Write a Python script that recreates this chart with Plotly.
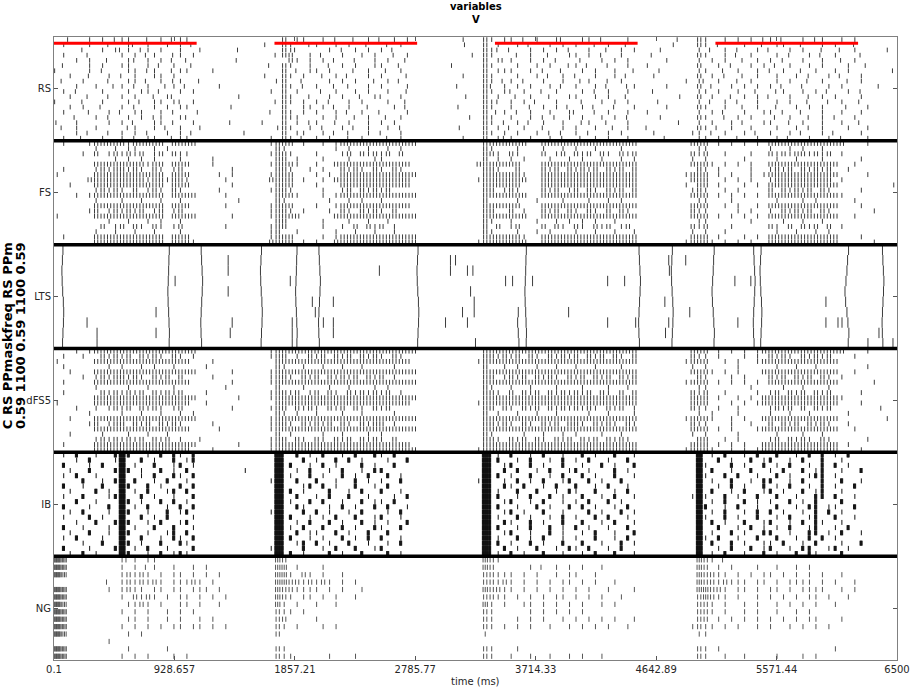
import plotly.graph_objects as go

BIN_MS = 50  # each character of a row string covers 50 ms (10 chars per group = 500 ms)

populations = ["RS", "FS", "LTS", "dFS5", "IB", "NG"]

mask_on_start = [0, 1700, 3400, 5100]
mask_on_end = [1100, 2800, 4500, 6200]

x_tick_values = [0.1, 928.657, 1857.21, 2785.77, 3714.33, 4642.89, 5571.44, 6500]
x_tick_labels = ["0.1", "928.657", "1857.21", "2785.77", "3714.33", "4642.89", "5571.44", "6500"]

# symbols: '.' none, digit n = n spikes in bin, a-e = one spike at 5/15/25/35/45 ms,
# 'B' = burst, 'W' = dense burst over bin, 'X' = dense burst at start of bin
RS_rows = [
    "..a..c.1.b 1c..b.1.a1 1......... .....2.c1. .1.b..a.1. a.1.1..... ...a..21.c 1.b.1..1a. .c1.b...1. ......a..2 1..1.c.1.b 1.a..1.b1. .1.c......",
    ".c...1..b. .1a.1..c.1 .a........ ..c..21..b 1..c.1..a. .b.1...... ...b..2.1. .1.a..c.1. 1..b.1..a. .....c...2 1.b...1..a .c1..a..1. 1..b......",
    "....b..1.c a1.b1.c..1 ..1.....b. .....21a.. ..1.b.1.c. 1.a....... ......21b. a..1.c.1.b ..1..a.1.c ...1.....1 .a.1.b..1. a..c.1..b. .a.1....c.",
    ".1...a.... 1.c.a1..b1 .1........ ....a22..1 .a..1..c.1 ..b.1..... ....c.21.. .b.1..a..1 c.1.b..1.. ..a......2 1..c.a.1.. .1.b..1.a. 1...b.....",
    "...c.1..a. .1b.c.1.a. b.......a. ......21.c .1.a..b..1 .c..a..... ......2.1a 1..c.1.b.. .a..1.c.1. ....1....1 .c.1..a.1. 1.b..c..1. .b.1......",
    ".b...c.1.. c1..1.a.1. .a........ ...a.21..c ..b.1.c..1 1..a...... .b....21.. .1..c.1..b 1.a..b..1. .c.......2 ..1.b..c.1 .a.1..1.c. ..1..a....",
    "a....1.b.. .1c.b1..a1 1...c..... .....2.b.1 1.c...a.1. .a.1...... ......2.c1 c..1.b..a. .1.c..1..b ...b.....1 1..a.c..1. b.1..a.1.. 1.c......b",
    "..1..b..c. b.1..c1.1. .......... ..c..21.1. .b.1.a..c. 1...b..... ...a..21.. .c..1.a.1. b..1..c.a. ..1......2 .1.b..a.c. .c..1.b..1 .a..1.....",
    ".a..1...b. .c1.a.1.b1 ..b....... ....b2..a. ..1.c.1..b .1.a...... ......21.a 1.b..1..c. .a1..b.1.. .......c.1 a.1..b.1.. .1.c..a.1. ..b.1.....",
    "...1..c..a 1.b.1..a1. a....1.... .....21.b. 1..a.b..1. c...1..... ..a...2b.1 .1.c..1.a. c..1.a..b1 ....c....2 .b..1.c.1. 1.a..b...1 .c.....a..",
    ".c.b...1.. .1.c1.a..1 .1........ ...c.2.1.. .a.1..c.1. .1..b..... ......21.c b.1..a.1.. .1.b.c..1. ..b......1 1.c..1..a. .b1..c.1.a ..1.b.....",
    "..1..a..b. c.1..b.1a. ........c. .....21..b ..c.1..a.1 b..1...... ...c..2.1. .a.1..b..1 1..c.1..a. ......1..2 .1..b.1.c. a..1..b.1. 1...c.....",
    "a...b..1.. .1.a.c1.1b .c........ ....a21.1. 1.b..1.c.. .1..a..... ......21b. c.1.a..1.. .b..1.c.1. ...a.....1 .a.1.b..1. .1.c..a..b .1..a.....",
    "..c.1..a.. 1.b..1.c.1 1......b.. .....2..c1 .1.a.c..b. ..1.a..... ..b...21.. 1..b.1.c.a .1.a..b..1 ....1....2 c..1..a.1. .b..1.c.1. ..a..1....",
    ".1...b..c. a.1c..1.b. ..a....... ...b.21.1. c..1.a.1.. a...1..... ......2.a1 .b.1..c..1 a..b.1..c. .c.......1 .1.a..c..1 1.b..a..1. .c..1.....",
    "...a..1.b. .c.1.b1..1 b......... .....21c.. .1.c..b.1. .a.1...... ....a.21.. c..1.b.a.1 .1..c.1.b. ...1.....2 1..b.c.1.. .a.1..b.1. b..1......",
    "b..1....c. 1.a..c1.b. .1.....a.. ..a..2.1.b 1..b.1..c. 1.c....... ......21.b .1.a.c..1. .b1..a..1. ......b..1 .c..1.a..1 1..b.1..c. .1..a.....",
    ".a.c..1... .b1..1.a.1 ..1....... ....c21..1 .b..1.a.c. .1.b...... ..1...2.c. a.1..b..1. c..1..a.1. .b.......2 1.a.c..1.. .c..1.b.1. ..1..c....",
    "...1.a..b. c.1.b..1.1 .a.......b .....2.1c. .1.a.b..1. b..1...... ......21.1 .c..1.b.a. 1.b..c.1.. ..1.....c1 .b.1..1.a. 1..c.a..1. a...1.....",
    ".c..a..1.. 1.b.1c..a1 1......... ...1.21.a. c.1..b.1.. .b.1...... ...a..2.1b 1..c..1.b. .a.1.c..1. ....a....1 1.c..b..1. .1.a..c..1 .b...1....",
]

FS_rows = [
    ".1...12222 2122222.22 22........ ...1222.1. .1.1222222 222222.... ......2222 222..22222 2222222222 ........22 2.1.1.1.1. 2222222222 22...1....",
    "......1..1 .11..1.1.. .......... ....21.... ...1.1..1. .1.1...... ......21.. .1...1..1. 1..1...1.. .........1 1......... 1..1.1..1. ..........",
    "....1.2.12 1212.12.21 1......... ...1221... 1...12.212 12.2...... ......221. 21...2.12. 212.21.212 ........21 2..1...1.. 2121221212 .1........",
    ".........1 .1.1.1...1 ....1..... ....22.1.. .1...1...1 1......... ......2.1. 1.1...1..1 .1..1..1.1 ........1. 1.....1... .1..1...1. ....1.....",
    "......2222 2222122.22 2...1..... ...12221.. 1..2222222 22222..... .....22222 22...22222 2222222222 ........22 21.1.1.1.. 2222222222 2..1......",
    ".1....1212 2121.21.12 .......1.. ....221..1 .1..2121.2 1.21...... ......221. .2...212.2 1212.212.2 .........2 1.1....1.. 1212.21212 ..1.......",
    "1.....2222 2222222.22 2....1.1.. ...1222... 1.1.222222 222222.... ......2222 221..22222 2222222222 .......122 2.1.1..1.1 2222222222 2....1....",
    ".....22222 2222122122 1.....1... ...2222.1. .1.2222222 22222..... .....12222 222..22222 2222222222 ........22 2..1.1.1.. 1222222222 .1........",
    "..1...2222 2222222.22 2......1.. ....222... 1...222222 22222..... ......2222 22...22222 2222222222 .......1.2 2.1...1.1. 2222222222 2........1",
    "......1212 1.2.121.21 .....1.... ...1221... .1..12.212 12........ ......22.1 21...212.1 2.21.212.2 ........12 1..1.1.... 2.21212.21 ....1.....",
    "...1.12222 2222222.22 22....1... ....2221.. .1.1222222 222222.... ......2222 222..22222 2222222222 ........22 2.1.1.1.1. 2222222222 21........",
    "......1... 1..1..1..1 ........1. ....21.... ..1..1.1.. 1......... ......2... .1..1...1. ..1..1.1.. .........1 1...1..... .1...1.1.. ...1......",
    "......2222 2222222.22 2.....1... ...1222... 1..1222222 22222..... ......2222 22...22222 2222222222 ........22 2..1.1..1. 2222222222 2...1.....",
    ".....12.12 1212.12.12 .......... ...1221.1. ..1.21.212 1.2....... ......22.. 2.1..212.2 1.21.2.21. ........21 1....1.1.. 1.21212.21 ......1...",
    "1.....2222 2222222.22 22.....1.. ...12222.. ...2222222 222222.... ......2222 222..22222 2222222222 ........22 2.1.1.1.1. 2222222222 2..1......",
    "........1. .1..1.1..1 .......... ....22.... .1...1..1. .1........ ......21.. 1...1..1.1 .1.1..1... .........1 1......1.. ..1..1..1. ..........",
    ".......2.1 2.21.21.12 ......1... ...122.... .1..1.2.21 2.1....... ......2.2. 12...2.21. 21.212.12. ........21 2...1..... 21.2.212.2 .1........",
    "......1..1 ..1..1...1 .......... ...12..1.. ...1..1..1 ..1....... ......21.. .1..1.1... 1..1..1..1 ........1. 1..1...... .1..1..1.1 ..........",
    ".1....2222 2222222.22 2......... ...1222... .1.1222222 222222.... ......2222 221..22222 2222222222 ........22 2.1...1.1. 2222222222 2...1.....",
    "......2222 2222222.22 21........ ...2222.1. 1..2222222 222222.... .....12222 222..22222 2222222222 .......122 21.1.1.1.. 2222222222 2.....1...",
]

dFS5_rows = [
    "...1.12222 2222222222 22........ ...1222222 2222222222 222222.... ......2222 2222222222 2222222222 ........22 2.1.1.1.12 2222222222 22...1....",
    ".1..1..212 12.2121.21 .1........ ...122.1.2 12.212.212 1.21...... ......2212 12.21.2121 2.212.21.2 ........21 1.1...1.1. 2121.21212 ...1......",
    "1.....2222 2222222222 2...1..... ....222222 2222222222 22222..... .....12222 2222222222 2222222222 .......122 2..1.1..12 2222222222 2.........",
    ".1......1. 1..1.1..1. ...1...... ....21..1. .1..1..1.. ..1....... ......2..1 .1..1..1.. 1..1...1.. ........1. 1....1.... .1..1..1.. .....1....",
    "..1...2222 2222222222 22.....1.. ...1222222 2222222222 222222.... ......2222 2222222222 2222222222 ........22 21.1.1...2 2222222222 2..1......",
    "....1.1212 2121.212.2 ....1..... ...1221.21 2.21212.21 2.1....... ......22.1 212.2121.2 12.212.212 .........2 1...1.1... 212.212.21 .1........",
    ".1....2222 2222222222 2......1.. ...1222222 2222222222 222222.... ......2222 2222222222 2222222222 .......122 2.1.1.1.1. 2222222222 2.....1...",
    "......1... .1..1...1. ......1... ....2...1. ..1..1...1 .1........ ......21.. 1..1...1.. .1...1..1. .........1 1......1.. ..1..1...1 ..........",
    ".1.....212 1212.21212 ...1...... ...12212.1 2.21.21212 12.1...... ......221. 2.212.2121 212.21.2.2 ........21 2..1....1. 12.212.212 ....1.....",
    "......2222 2222222222 22......1. ...1222222 2222222222 222222.... ......2222 2222222222 2222222222 ........22 2.1..1.1.2 2222222222 21........",
    "1.....2222 2222222222 2..1...... ....222222 2222222222 22222..... .....12222 2222222222 2222222222 ........22 2...1.1.12 2222222222 2...1.....",
    "...1..1.12 12.2121.12 .......1.. ...122.212 1.212.21.2 12........ ......22.2 1.212.2121 2121.212.1 ........21 1.1..1.... 1212.2.212 .......1..",
    ".....1.... 1..1..1..1 .1........ ....21.1.. 1...1..1.. ..1....... ......2.1. .1..1..1.. ..1..1...1 .........1 .1...1.... 1..1..1... ..1.......",
    "..1...2222 2222222222 22........ ...1222222 2222222222 222222.... ......2222 2222222222 2222222222 .......122 21..1.1..2 2222222222 2.......1.",
    ".....12.12 2.212.2121 ....1..... ...1221.21 212.21.212 2.1....... ......2212 1.21.212.2 21.2121.21 ........21 1...1..1.. 2.212.2121 ..1.......",
    "......2222 2222222222 2....1.... ...1222222 2222222222 222222.... ......2222 2222222222 2222222222 ........22 2.1.1...12 2222222222 2..1......",
    "..1....1.. .1..1..1.. .......... ....2.1... .1..1...1. 1......... ......21.. ..1..1..1. 1...1..1.. ........1. 1....1.... .1...1..1. ..........",
    "......1212 1212.212.1 ..1....... ...122.21. 21.212.212 1.2....... ......221. 212.21.212 .212.2121. .........2 2..1.1.... 12.2121.21 .....1....",
    ".1....2222 2222222222 22......1. ...1222222 2222222222 22222..... ......2222 2222222222 2222222222 ........22 2.1.1.1..2 2222222222 2.1.......",
    "......2222 2222222222 2...1..... ...1222222 2222222222 222222.... .....12222 2222222222 2222222222 .......122 21..1.1.12 2222222222 2...1.....",
]

IB_rows = [
    ".1.B..c..B WB..1.B.B1 .B........ ....WX.B.1 .B..1.B..B 1.B....... ......WX1. B..1.B..1. .B.1..B..1 .........W .1.B..1.B. .B..1.B.B. 1.B.......",
    "...1.B...1 W..B.1..B. 1B........ ....WX..B. 1..B.B.1.. .1..B..... ......WXB. .1.B..1.B. 1.B..1..B. .........W ..B.1..B.1 B..1.B..B. .1........",
    ".B...1.B.. W.1..B..1B .1........ ....WXB..1 .B.1...B.1 ..B....... ......WX.1 B..B.1..B. .1..B.1..B .........W 1...B.1..B .1.B..1.B. B.1.......",
    "..1..B...B WB.1..B.1. B........1 ....WX.1.B ..1.B..1.B B......... ......WX.B .B..1.B..1 B.1...B.1. .........W .B..1..B.. 1.B..B.1B. .1..B.....",
    ".1.B..1... W..1.B..B1 .B........ ....WX1..B .1..B.1.B. .B.1...... ......WXB. 1..B..1.B. .B.1..B..1 .........W 1..B.B..1. .B.1..1BB. 1.........",
    "....B..1.B W.B..1.B.. 1......... ...1WX.B.. B..1..B.1. 1..B...... .....1WX.1 .B.1.B..1B ..B.1..B.. .........W .1..B..1.B B..1.B..B. .B..1.....",
    ".B..1..B.. WB..B.1..B .B........ ....WX..1B .B.1..B..1 .B........ ......WX.B 1.B..1.B.. B..1.B..1. .........W ..1.B.1..B .1.B..1.B. 1..B......",
    "..1...B.1. W.1.B..1B. B......... ....WXB.1. ..B..1.B.. B..1...... ......WX1. .B..B..1.B 1..B..1.B. .........W .B..1.B..1 B.1..B.1B. .1........",
    ".1..B...1B W..B.1..1. .B........ ....WX.B.. 1.B..B..1. ..1.B..... ......WXB. .1.B..B.1. .B..1.B..1 ........1W 1..B.1..B. .B..1..BB. B..1......",
    "...B..1... WB.1..B.B. 1......... ....WX1..B .B..1..B.1 1.B....... ......WX.1 B..1.B..1. 1.B..B.1.. .........W .1.B..B.1. 1..B.1.B.. .B........",
    ".B...1..B. W.1.B..1.B .B........ ....WX.B1. ..1.B.1..B .B..1..... ......WXB. .1..B.1..B .B.1..1.B. .........W B..1.B..1. .B..1.BB.1 1..B......",
    "..1.B...1. WB..1..B.1 B......... ...1WX..B. B.1..1.B.. .1.B...... ......WX.1 B.1..B..1. ..B.1..B.1 .........W .1.B..1.B. B.1..1.B.B .1........",
    ".1...B.1.. W..B.1.B.. .1........ ....WXB..1 .1.B..B..1 B..1...... ......WX1. .B.1..1.B. 1..B.B..1. .........W 1..B.1..B. .1.B..1B.. B..1......",
    "...1..B..B WB..1.B..1 B......... ....WX.1.B ..B.1..B.1 .1..B..... ......WX.B 1..B.1..B. .B..1.B..1 .........W .B.1..B..1 B..1.B.B1. .1........",
    ".B..1...1. W.1..B..B. .1........ ....WX1.B. .B..B.1..B 1..B...... ......WXB. .1.B..B.1. B.1..1..B. .........W ..B..1.B.1 .1.B..1B.. 1.B.......",
    "..1..B..1. WB..1..1B. B......... ....WX.B.1 1..B.1..B. .B........ ......WX.1 B..1..B.1. .1.B..1..B .........W .1..B.1..B B..1..BB.1 .B..1.....",
    ".1.B...1.. W..B..1.B1 .B........ ....WXB..1 .1..B.1.B. B..1...... ......WX1. .B.1.B..1. 1..B..1.B. .........W 1.B..1..B. .B..1.B.B. 1.........",
    "....1..B.. WB.1..B..B 1......... ....WX.1B. B.1..B..1. .1.B...... ......WXB. 1..B.1..B. .B..1..B.1 .........W .B..B.1..1 1.B..1.B.. .1..B.....",
    ".B...1...B W.1.B..1.. .B........ ...1WX..B. .1.B..B..1 B......... ......WX.B .1..B..1.B 1.B..1.B.. .........W ..1.B..B.1 B..1.BB..1 B.1.......",
    "..1.B.1... WB..1.B.1B 1......... ....WXB.1. ..B.1..B.. .B.1...... ......WX1. B.1..B..1. .1.B..B..1 .........W .1.B..1..B .1..B.B1.. .B........",
]

NG_rows = [
    "95........ 1a1.c1.... .......... ....32.... .......... .......... ......321. .......... .......... .........3 21.a...... .......... ..........",
    "95........ 1.1.a1..1. .1.1...... ....33.1.. .1........ .......... ......32.. ...1.a.1.1 .1..1..... .........3 2.1.1...1. .1..1.1... ..........",
    "94........ 12121.1.11 .1.1.1.... ....331.21 .1..1..... .......... ......2211 1.1.1..1.1 1..1...... .........3 2211.1.1.1 1.1.1.1.1. .1........",
    "........a. 1212121.11 121.1..... ....332212 121.1.1... .......... ......2212 1.1.1.1.11 .1.1..1... .........3 2212111.11 .1.1111.1. 1..1......",
    "95......1. 1211.11.11 .111.1.... ....322111 1.1.1..1.. .......... ......3221 1.1.1.1.1. 1.1..1...1 .........3 3221.11.1. 11.1.1111. .1.1......",
    "95........ 1.2121.1.1 1.1.1.1... ....321.11 .1.1..1... .......... ......2211 .1.1.1.11. 1.1.1..1.. .........2 3211.1..1. 1.1.1.11.1 ..1.......",
    "94........ .1121.1..1 1.1..1.... ....31.1.. 1..1...... .......... ......31.1 ..11.1.1.1 .1..1.1... .........2 21.1..1.1. .1.1.1.1.. 1.........",
    "95........ 1.1.1..1.1 .1........ ....211.1. .......... .......... ......21.. ...1.1.1.1 .1........ .........2 21.1..1.1. .1..1.1... ..........",
    "95........ .11.1..1.1 ..1.1..... ....22.... 1......... .......... ......21.. .1.1.1..1. 1.1.1.1..1 .........2 2.1.1.1.1. 1.1.1.11.. .1........",
    "95........ 1.1.1.1.11 .11.1.1... ....21.1.. .1.1...... .......... ......21.1 .1.1..1..1 .1.1.1..1. ........12 11.1.1..1. 1..1.1.1.1 ..........",
    "94........ .1.1...... .......... ....2..... .......... .......... ......1... .......... .......... .........1 1......... .......... ..........",
    "........1. .......... .......... .......... .......... .......... .......... .......... .......... .......... .......... .......... ..........",
    "95........ .1.....1.. .......... ....21.... .......... .......... ......21.. .1........ .......... .........2 1.1....... .......... 1.........",
    "95........ 1.1.1...1. 1......... ....211... ..1...1... .......... ......21.. 1..1..1..1 .1..1..... .........2 1..1..1... .1...1.1.. ..........",
]

# LTS: synchronous volleys (ms) with per-row timing offsets, plus isolated spikes (ms, row)
LTS_n_rows = 10
LTS_volley_times = [69, 884, 1138, 1600, 1869, 2046, 2807, 3637, 4514, 4768, 5083, 5398, 5452, 6114, 6391]
LTS_volley_spread = [1, 1, 1, 1, 1, 1, 1, 1, 1, 1, 1.5, 1, 1, 2.5, 1]
LTS_row_offsets = [
    [0, -4, -8, -6, -2, 3, 6, 4, 0, -3],
    [5, 2, 0, -3, -6, -4, 0, 3, 6, 4],
    [-3, 0, 4, 8, 5, 1, -3, -6, -4, 0],
]
LTS_extra_times = [255, 332, 332, 787, 787, 934, 1343, 1343, 1343, 1374, 1359, 1822, 1837, 1837, 1837,
                   1992, 2015, 2077, 2154, 2154, 2154, 2509, 3019, 3057, 3057, 3096, 3150, 3188, 3188,
                   3212, 3230, 3240, 3240, 3250, 3482, 3536, 3580, 3575, 3580, 3585, 3690, 3968, 4269,
                   4269, 4400, 4485, 4710, 4715, 4740, 4745, 4740, 4871, 4902, 5250, 5273, 5373, 5952,
                   5952, 6045, 6076, 6276, 6361, 6469]
LTS_extra_rows = [7, 8, 9, 6, 8, 3, 1, 2, 4, 7, 8, 3, 7, 8, 9,
                  5, 6, 7, 5, 7, 8, 2, 7, 1, 2, 1, 6, 2, 7,
                  4, 2, 5, 6, 9, 3, 3, 6, 7, 8, 9, 3, 6, 3,
                  7, 3, 7, 5, 8, 1, 2, 7, 1, 6, 3, 7, 3, 5,
                  7, 7, 7, 9, 8, 9]

LETTER_OFFSETS = {"a": 5, "b": 15, "c": 25, "d": 35, "e": 45}


def decode_row(row):
    times = []
    for g, grp in enumerate(row.split()):
        for j, ch in enumerate(grp[:10]):
            t0 = (g * 10 + j) * BIN_MS
            if ch == ".":
                continue
            if ch.isdigit():
                n = int(ch)
                times += [t0 + (k + 0.5) * BIN_MS / n for k in range(n)]
            elif ch in LETTER_OFFSETS:
                times.append(t0 + LETTER_OFFSETS[ch])
            elif ch == "B":
                times += [t0 + 15 + 4 * k for k in range(5)]
            elif ch == "W":
                times += [t0 + 3 + 3 * k for k in range(16)]
            elif ch == "X":
                times += [t0 + 2 + 3 * k for k in range(6)]
    return times


def lts_spikes():
    rows = [[] for _ in range(LTS_n_rows)]
    for i, t in enumerate(LTS_volley_times):
        offs = LTS_row_offsets[i % len(LTS_row_offsets)]
        for r in range(LTS_n_rows):
            rows[r].append(t + offs[r] * LTS_volley_spread[i])
    for t, r in zip(LTS_extra_times, LTS_extra_rows):
        rows[r].append(t)
    return rows


spike_rows = {
    "RS": [decode_row(s) for s in RS_rows],
    "FS": [decode_row(s) for s in FS_rows],
    "LTS": lts_spikes(),
    "dFS5": [decode_row(s) for s in dFS5_rows],
    "IB": [decode_row(s) for s in IB_rows],
    "NG": [decode_row(s) for s in NG_rows],
}
mark_fraction = {"RS": 0.9, "FS": 0.95, "LTS": 1.0, "dFS5": 0.95, "IB": 0.95, "NG": 0.7}
mark_color = {"RS": "#3c3c3c", "FS": "#3c3c3c", "LTS": "#3c3c3c", "dFS5": "#3c3c3c", "IB": "#111111", "NG": "#555555"}

n_pop = len(populations)
fig = go.Figure()

for p, name in enumerate(populations):
    top = n_pop - p
    rows = spike_rows[name]
    n = len(rows)
    xs, ys = [], []
    for r, times in enumerate(rows):
        yc = top - (r + 0.5) / n
        hh = 0.5 * mark_fraction[name] / n
        for t in times:
            if t < 0 or t > 6500:
                continue
            xs += [t, t, None]
            ys += [yc - hh, yc + hh, None]
    fig.add_trace(go.Scatter(x=xs, y=ys, mode="lines", line=dict(color=mark_color[name], width=1),
                             hoverinfo="skip", showlegend=False, name=name))

# mask (red) bars at the top of the RS panel
rx, ry = [], []
for s, e in zip(mask_on_start, mask_on_end):
    rx += [s, e, None]
    ry += [5.94, 5.94, None]
fig.add_trace(go.Scatter(x=rx, y=ry, mode="lines", line=dict(color="#ff0000", width=3),
                         hoverinfo="skip", showlegend=False))

shapes = []
for k in range(1, n_pop):
    shapes.append(dict(type="line", xref="paper", yref="y", x0=0, x1=1, y0=k, y1=k,
                       line=dict(color="black", width=3.5)))

font_family = "DejaVu Sans, Liberation Sans, sans-serif"
plot_left_px, plot_width_px = 54, 845

fig.update_layout(
    width=922, height=691,
    margin=dict(l=54, r=23, t=37, b=31),
    paper_bgcolor="white", plot_bgcolor="white",
    shapes=shapes,
    font=dict(family=font_family, size=10, color="#262626"),
    xaxis=dict(range=[0.1, 6500], tickvals=x_tick_values, ticktext=x_tick_labels,
               ticks="inside", ticklen=4, tickcolor="#555555",
               showline=True, linecolor="#808080", linewidth=1, mirror="ticks",
               showgrid=False, zeroline=False, tickfont=dict(size=10, color="#262626")),
    yaxis=dict(range=[0, 6], tickvals=[n_pop - p - 0.5 for p in range(n_pop)], ticktext=populations,
               ticks="inside", ticklen=4, tickcolor="#555555",
               showline=True, linecolor="#808080", linewidth=1, mirror="ticks",
               showgrid=False, zeroline=False, tickfont=dict(size=10, color="#262626")),
    annotations=[
        dict(text="<b>variables</b><br><b>V</b>", xref="paper", yref="paper", x=0.5, y=1.039,
             xanchor="center", yanchor="middle", showarrow=False,
             font=dict(size=10, color="black", family=font_family)),
        dict(text="time (ms)", xref="paper", yref="paper", x=0.5, y=-0.034,
             xanchor="center", yanchor="middle", showarrow=False,
             font=dict(size=10, color="#262626", family=font_family)),
        dict(text="<b>C RS PPmaskfreq RS PPm</b>",
             xref="paper", yref="paper", x=(7 - plot_left_px) / plot_width_px, y=0.52, textangle=-90,
             xanchor="center", yanchor="middle", showarrow=False,
             font=dict(size=13, color="black", family=font_family)),
        dict(text="<b>0.59 1100 0.59 1100 0.59</b>",
             xref="paper", yref="paper", x=(20 - plot_left_px) / plot_width_px, y=0.52, textangle=-90,
             xanchor="center", yanchor="middle", showarrow=False,
             font=dict(size=13, color="black", family=font_family)),
    ],
)

fig.write_html("out.html")
